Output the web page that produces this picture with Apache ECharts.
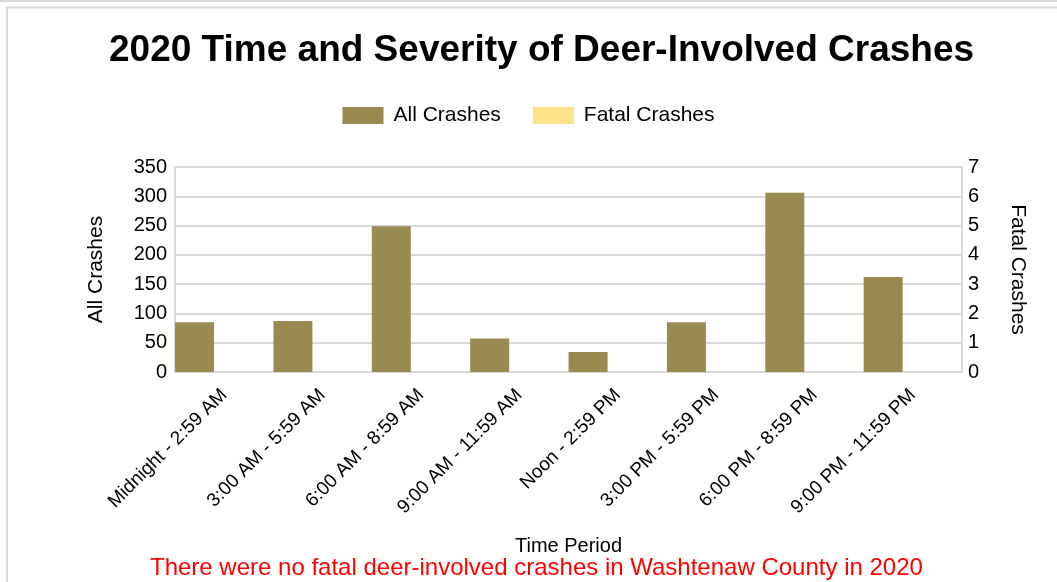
<!DOCTYPE html>
<html>
<head>
<meta charset="utf-8">
<script src="https://cdn.jsdelivr.net/npm/echarts@6/dist/echarts.min.js"></script>
<style>
html,body{margin:0;padding:0;background:#fff;}
#chart{width:1057px;height:582px;}
</style>
</head>
<body>
<div id="chart"></div>
<script>
var categories = ["Midnight - 2:59 AM","3:00 AM - 5:59 AM","6:00 AM - 8:59 AM","9:00 AM - 11:59 AM","Noon - 2:59 PM","3:00 PM - 5:59 PM","6:00 PM - 8:59 PM","9:00 PM - 11:59 PM"];
var allCrashes = [85, 87, 249, 57, 34, 85, 306, 162];
var fatalCrashes = [0, 0, 0, 0, 0, 0, 0, 0];
var leftTicks = {min: 0, max: 350, interval: 50};
var rightTicks = {min: 0, max: 7, interval: 1};

var FONT = "Liberation Sans, Arial, sans-serif";
var chart = echarts.init(document.getElementById('chart'));
chart.setOption({
  animation: false,
  backgroundColor: '#fff',
  textStyle: {fontFamily: FONT},
  title: {
    text: '2020 Time and Severity of Deer-Involved Crashes',
    left: 104,
    top: 27,
    textStyle: {fontFamily: FONT, fontSize: 37, fontWeight: 'bold', color: '#000'}
  },
  legend: {
    data: ['All Crashes', 'Fatal Crashes'],
    top: 100,
    left: 'center',
    icon: 'rect',
    itemWidth: 41,
    itemHeight: 17,
    itemGap: 32,
    textStyle: {fontFamily: FONT, fontSize: 21, color: '#000', padding: [0, 0, 0, 5]}
  },
  grid: {left: 175, right: 95, top: 167, bottom: 210, containLabel: false},
  xAxis: {
    type: 'category',
    data: categories,
    name: 'Time Period',
    nameLocation: 'middle',
    nameGap: 164,
    nameTextStyle: {fontFamily: FONT, fontSize: 20, color: '#000'},
    axisLine: {show: true, lineStyle: {color: '#d9d9d9', width: 2}},
    axisTick: {show: false},
    axisLabel: {rotate: 45, fontSize: 19, color: '#000', margin: 20, fontFamily: FONT, interval: 0}
  },
  yAxis: [
    {
      type: 'value',
      min: leftTicks.min, max: leftTicks.max, interval: leftTicks.interval,
      name: 'All Crashes',
      nameLocation: 'middle',
      nameGap: 68,
      nameRotate: 90,
      nameTextStyle: {fontFamily: FONT, fontSize: 21, color: '#000'},
      axisLine: {show: true, lineStyle: {color: '#d9d9d9', width: 2}},
      axisTick: {show: false},
      axisLabel: {fontSize: 20, color: '#000', margin: 8, fontFamily: FONT},
      splitLine: {show: true, lineStyle: {color: '#d9d9d9', width: 2}}
    },
    {
      type: 'value',
      position: 'right',
      min: rightTicks.min, max: rightTicks.max, interval: rightTicks.interval,
      name: 'Fatal Crashes',
      nameLocation: 'middle',
      nameGap: 45,
      nameRotate: -90,
      nameTextStyle: {fontFamily: FONT, fontSize: 21, color: '#000'},
      axisLine: {show: true, lineStyle: {color: '#d9d9d9', width: 2}},
      axisTick: {show: false},
      axisLabel: {fontSize: 20, color: '#000', margin: 6, fontFamily: FONT},
      splitLine: {show: false}
    }
  ],
  series: [
    {
      name: 'All Crashes',
      type: 'bar',
      yAxisIndex: 0,
      data: allCrashes,
      barWidth: 39,
      barGap: '52%',
      itemStyle: {color: '#988a51'}
    },
    {
      name: 'Fatal Crashes',
      type: 'bar',
      yAxisIndex: 1,
      data: fatalCrashes,
      barWidth: 39,
      itemStyle: {color: '#fee38a'}
    }
  ],
  graphic: [
    {type: 'line', shape: {x1: 0, y1: 1, x2: 1057, y2: 1}, style: {stroke: '#d9d9d9', lineWidth: 2}},
    {type: 'line', shape: {x1: 6, y1: 7.5, x2: 1057, y2: 7.5}, style: {stroke: '#d9d9d9', lineWidth: 2}},
    {type: 'line', shape: {x1: 7, y1: 7, x2: 7, y2: 582}, style: {stroke: '#d9d9d9', lineWidth: 2}},
    {
      type: 'text',
      left: 150,
      top: 556,
      style: {
        text: 'There were no fatal deer-involved crashes in Washtenaw County in 2020',
        fill: '#ff0000',
        font: '24px ' + FONT
      }
    }
  ]
});
</script>
</body>
</html>
